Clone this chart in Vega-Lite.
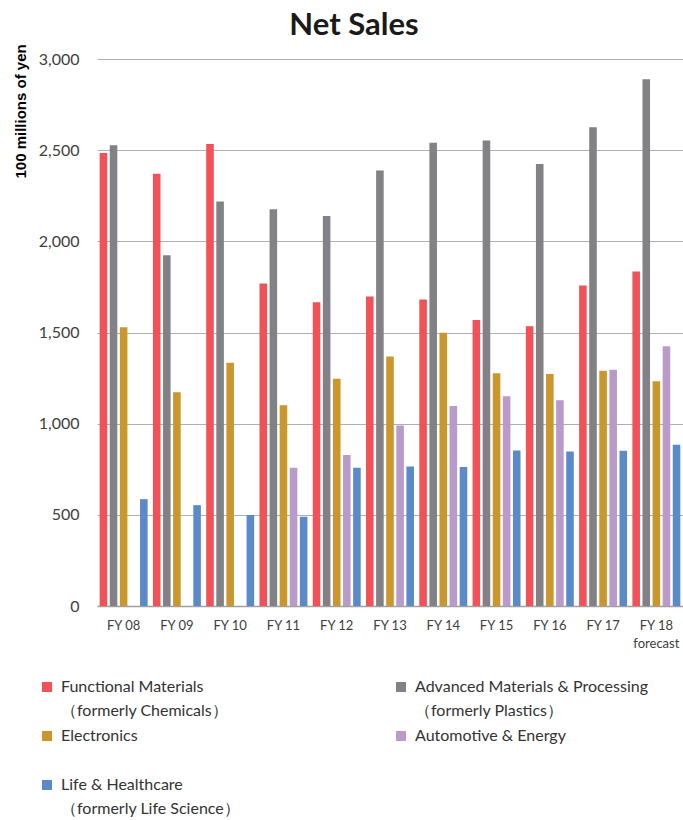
{
  "$schema": "https://vega.github.io/schema/vega-lite/v6.json",
  "width": 586,
  "height": 547,
  "autosize": {"type": "none"},
  "padding": {"left": 97, "top": 59, "right": 0, "bottom": 214},
  "background": "white",
  "title": {"text": "Net Sales", "font": "Lato", "fontSize": 31, "fontWeight": "bold", "color": "#1a1a1a", "anchor": "middle", "dx": -36, "offset": 14, "dy": 12},
  "config": {"view": {"stroke": null}},
  "data": {"values": [
    {"year": "FY 08", "series": "Functional Materials\n（formerly Chemicals）", "value": 2485},
    {"year": "FY 08", "series": "Advanced Materials & Processing\n（formerly Plastics）", "value": 2527},
    {"year": "FY 08", "series": "Electronics", "value": 1529},
    {"year": "FY 08", "series": "Life & Healthcare\n（formerly Life Science）", "value": 586},
    {"year": "FY 09", "series": "Functional Materials\n（formerly Chemicals）", "value": 2370},
    {"year": "FY 09", "series": "Advanced Materials & Processing\n（formerly Plastics）", "value": 1924},
    {"year": "FY 09", "series": "Electronics", "value": 1172},
    {"year": "FY 09", "series": "Life & Healthcare\n（formerly Life Science）", "value": 553},
    {"year": "FY 10", "series": "Functional Materials\n（formerly Chemicals）", "value": 2534},
    {"year": "FY 10", "series": "Advanced Materials & Processing\n（formerly Plastics）", "value": 2218},
    {"year": "FY 10", "series": "Electronics", "value": 1334},
    {"year": "FY 10", "series": "Life & Healthcare\n（formerly Life Science）", "value": 499},
    {"year": "FY 11", "series": "Functional Materials\n（formerly Chemicals）", "value": 1769},
    {"year": "FY 11", "series": "Advanced Materials & Processing\n（formerly Plastics）", "value": 2176},
    {"year": "FY 11", "series": "Electronics", "value": 1101},
    {"year": "FY 11", "series": "Automotive & Energy", "value": 758},
    {"year": "FY 11", "series": "Life & Healthcare\n（formerly Life Science）", "value": 490},
    {"year": "FY 12", "series": "Functional Materials\n（formerly Chemicals）", "value": 1666},
    {"year": "FY 12", "series": "Advanced Materials & Processing\n（formerly Plastics）", "value": 2139},
    {"year": "FY 12", "series": "Electronics", "value": 1246},
    {"year": "FY 12", "series": "Automotive & Energy", "value": 828},
    {"year": "FY 12", "series": "Life & Healthcare\n（formerly Life Science）", "value": 758},
    {"year": "FY 13", "series": "Functional Materials\n（formerly Chemicals）", "value": 1697},
    {"year": "FY 13", "series": "Advanced Materials & Processing\n（formerly Plastics）", "value": 2389},
    {"year": "FY 13", "series": "Electronics", "value": 1368},
    {"year": "FY 13", "series": "Automotive & Energy", "value": 990},
    {"year": "FY 13", "series": "Life & Healthcare\n（formerly Life Science）", "value": 765},
    {"year": "FY 14", "series": "Functional Materials\n（formerly Chemicals）", "value": 1681},
    {"year": "FY 14", "series": "Advanced Materials & Processing\n（formerly Plastics）", "value": 2540},
    {"year": "FY 14", "series": "Electronics", "value": 1498},
    {"year": "FY 14", "series": "Automotive & Energy", "value": 1097},
    {"year": "FY 14", "series": "Life & Healthcare\n（formerly Life Science）", "value": 763},
    {"year": "FY 15", "series": "Functional Materials\n（formerly Chemicals）", "value": 1569},
    {"year": "FY 15", "series": "Advanced Materials & Processing\n（formerly Plastics）", "value": 2553},
    {"year": "FY 15", "series": "Electronics", "value": 1277},
    {"year": "FY 15", "series": "Automotive & Energy", "value": 1151},
    {"year": "FY 15", "series": "Life & Healthcare\n（formerly Life Science）", "value": 853},
    {"year": "FY 16", "series": "Functional Materials\n（formerly Chemicals）", "value": 1534},
    {"year": "FY 16", "series": "Advanced Materials & Processing\n（formerly Plastics）", "value": 2424},
    {"year": "FY 16", "series": "Electronics", "value": 1273},
    {"year": "FY 16", "series": "Automotive & Energy", "value": 1128},
    {"year": "FY 16", "series": "Life & Healthcare\n（formerly Life Science）", "value": 847},
    {"year": "FY 17", "series": "Functional Materials\n（formerly Chemicals）", "value": 1758},
    {"year": "FY 17", "series": "Advanced Materials & Processing\n（formerly Plastics）", "value": 2626},
    {"year": "FY 17", "series": "Electronics", "value": 1290},
    {"year": "FY 17", "series": "Automotive & Energy", "value": 1296},
    {"year": "FY 17", "series": "Life & Healthcare\n（formerly Life Science）", "value": 851},
    {"year": "FY 18 forecast", "series": "Functional Materials\n（formerly Chemicals）", "value": 1834},
    {"year": "FY 18 forecast", "series": "Advanced Materials & Processing\n（formerly Plastics）", "value": 2889},
    {"year": "FY 18 forecast", "series": "Electronics", "value": 1233},
    {"year": "FY 18 forecast", "series": "Automotive & Energy", "value": 1424},
    {"year": "FY 18 forecast", "series": "Life & Healthcare\n（formerly Life Science）", "value": 884}
  ]},
  "mark": {"type": "bar"},
  "encoding": {
    "x": {
      "field": "year", "type": "nominal", "sort": null,
      "scale": {"paddingInner": 0.1, "paddingOuter": 0.05},
      "axis": {
        "title": null, "labelAngle": 0, "ticks": false,
        "domainColor": "#a0a0a0", "domainWidth": 1.5,
        "labelFont": "Lato", "labelFontSize": 13, "labelColor": "#404040",
        "labelPadding": 13, "labelLineHeight": 18,
        "labelExpr": "datum.value == 'FY 18 forecast' ? ['FY 18', 'forecast'] : datum.label"
      }
    },
    "xOffset": {
      "field": "series", "type": "nominal",
      "scale": {
        "domain": ["Functional Materials\n（formerly Chemicals）", "Advanced Materials & Processing\n（formerly Plastics）", "Electronics", "Automotive & Energy", "Life & Healthcare\n（formerly Life Science）"],
        "paddingInner": 0.25, "paddingOuter": 0
      }
    },
    "y": {
      "field": "value", "type": "quantitative",
      "scale": {"domain": [0, 3000], "nice": false},
      "axis": {
        "values": [0, 500, 1000, 1500, 2000, 2500, 3000], "format": ",.0f",
        "domain": false, "ticks": false, "grid": true, "gridColor": "#b0b0b0", "gridWidth": 1,
        "labelFont": "Lato", "labelFontSize": 16, "labelColor": "#404040", "labelPadding": 18,
        "title": "100 millions of yen", "titleFont": "Liberation Sans", "titleFontSize": 15,
        "titleFontWeight": "bold", "titleColor": "#000000", "titleAngle": -90,
        "titleX": -84, "titleY": 119, "titleAlign": "left", "titleBaseline": "top"
      }
    },
    "color": {
      "field": "series", "type": "nominal",
      "scale": {
        "domain": ["Functional Materials\n（formerly Chemicals）", "Advanced Materials & Processing\n（formerly Plastics）", "Electronics", "Automotive & Energy", "Life & Healthcare\n（formerly Life Science）"],
        "range": ["#f05257", "#818186", "#c9972c", "#b99bc9", "#5a8bc8"]
      },
      "legend": {
        "title": null, "orient": "none", "legendX": -58, "legendY": 620, "direction": "horizontal",
        "columns": 2, "columnPadding": 152, "rowPadding": 9,
        "symbolType": "square", "symbolSize": 100, "symbolStrokeWidth": 0,
        "labelFont": "Lato", "labelFontSize": 16, "labelColor": "#333333", "labelLimit": 400, "labelOffset": 6,
        "labelExpr": "indexof(datum.label, '\\n') >= 0 ? split(datum.label, '\\n') : [datum.label, ' ']",
        "encode": {"labels": {"update": {"lineHeight": {"value": 24}}}}
      }
    }
  }
}
